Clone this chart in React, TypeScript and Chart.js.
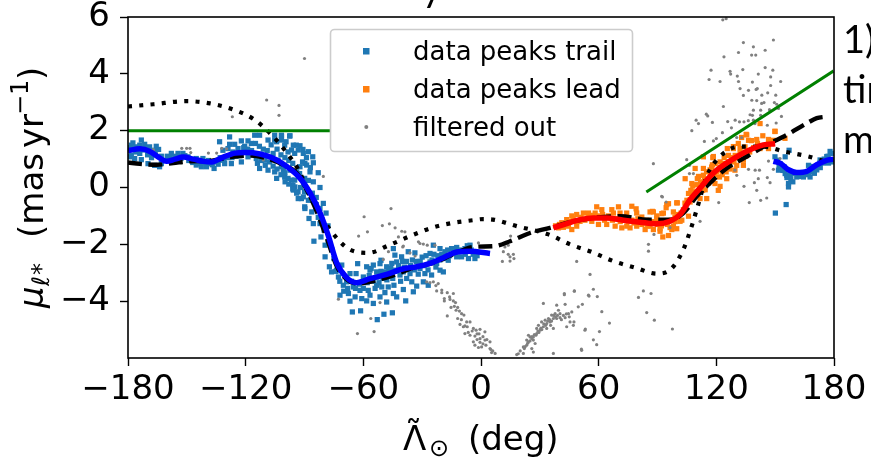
import React, { useEffect, useRef } from "react";
import { Chart, registerables } from "chart.js";

Chart.register(...registerables);

const xTicks = [-180, -120, -60, 0, 60, 120, 180];
const yTicks = [-4, -2, 0, 2, 4, 6];
const legendLabels = ["data peaks trail", "data peaks lead", "filtered out"];
const sideText = ["1)", "tim", "m"];
const clippedGlyph = "y";

type P = [number, number];

const trailPeaks: P[] = [
[-177.5,1.57],[-173.2,1.67],[-171.5,1.52],[-175.8,1.43],[-178.3,1.49],[-169,1.43],[-165.6,1.45],[-164.4,1.34],[-167.3,1.2],[-179,1.08],[-176.6,1.02],[-173.2,.98],[-169.8,.84],[-166.4,.78],[-163.9,.73],[-163,.84],[-178.3,1.14],[-174,1.49],[-170.7,1.37],[-166.4,1.31],[-157.9,1.2],[-154.5,1.2],[-152,1.2],[-158.8,1.08],[-156.2,1.1],[-149.4,1.08],[-145.2,.79],[-142.6,.73],[-140,.73],[-145.2,1.02],[-141.8,1.02],[-136.1,.67],[-138.4,.84],[-135.8,.9],[-132.4,.96],[-133.3,1.61],[-128.2,1.78],[-131.6,1.31],[-129,1.37],[-125.6,1.52],[-122.2,1.64],[-118.8,1.64],[-115.4,1.84],[-112.9,1.84],[-108.6,1.67],[-105.2,1.84],[-101.8,1.84],[-97.6,1.81],[-105.2,1.67],[-101.8,1.67],[-100.1,1.49],[-94.2,1.49],[-90.8,1.34],[-98.4,1.25],[-95,1.2],[-117.1,1.55],[-120.5,1.45],[-126.5,1.25],[-123.9,1.37],[-128.2,1.52],[-112.9,.67],[-108.6,.61],[-105.2,.55],[-101.8,.73],[-103.5,.96],[-100.1,.37],[-98.4,.32],[-95,.26],[-95.9,.08],[-93.3,-.15],[-91.6,-.39],[-89.9,-.68],[-89.9,.32],[-92.5,.49],[-110.3,.96],[-114.6,1.02],[-107.8,.9],[-118.8,1.08],[-122.2,.9],[-127.3,.84],[-130.7,.84],
[-97.4,1.82],[-101.7,1.81],[-99.4,1.61],[-104.2,1.61],[-95.7,1.49],[-92.3,1.47],[-96.6,1.32],[-93.2,1.32],[-88,1.26],[-90.6,1.2],[-85.8,1.08],[-85.5,.87],[-89.8,.85],[-92.3,.73],[-88.9,.79],[-83,.52],[-87.2,.55],[-94,.55],[-97.4,.61],[-100.8,.61],[-104.2,.32],[-99.9,.2],[-96.6,.26],[-94.9,.02],[-85.5,.2],[-82.1,0],[-93.2,-.39],[-90.6,-.33],[-95.7,-.09],[-89.8,-.74],[-86.3,-.86],[-80.4,-.56],[-82.1,-.74],[-87.7,-1.09],[-85.5,-1.27],[-82.1,-1.27],[-85.2,-1.89],[-81.6,-1.74],[-79.5,-2.03],[-77.9,-1.97],[-79.5,-2.44],[-77.3,-2.79],[-76.2,-2.97],[-73.6,-2.91],[-71,-2.73],[-62.9,-2.68],[-72.7,-3.15],[-70.2,-3.44],[-68.5,-3.32],[-71.9,-3.79],[-66.8,-4],[-67.6,-3.73],[-64.2,-3.85],[-60.8,-3.91],[-58.3,-3.99],[-54.9,-4.08],[-51.5,-3.85],[-48.1,-4.03],[-65.6,-4.38],[-61.4,-4.34],[-49.5,-4.46],[-52.9,-4.65],[-65.1,-3.5],[-61.7,-3.62],[-57.5,-3.62],[-56.6,-3.79],[-53.2,-3.44],[-50.6,-3.5],[-47.3,-3.5],[-58.3,-2.79],[-54.9,-2.73],[-51.5,-2.68],[-48.1,-2.79],[-51,-2.56],[-66.8,-3.03],[-63.7,-3.03],[-56.6,-2.91],[-53.2,-2.97],[-49,-2.97],
[-44.7,-2.15],[-40.5,-2.44],[-37.1,-2.26],[-33.7,-2.3],[-43,-2.62],[-43.9,-2.91],[-41.3,-3.08],[-37.9,-3.2],[-35.3,-3.32],[-32.8,-3.47],[-34.5,-3.67],[-29.4,-3.32],[-26.9,-3.44],[-39.6,-3.59],[-44.4,-3.44],[-44.7,-3.73],[-43,-3.85],[-38.4,-3.99],[-45.2,-4.41],[-26,-2.32],[-24.3,-2.03],[-20.9,-2.15],[-18.4,-2.26],[-15,-2.15],[-12.4,-2.11],[-9.9,-2.44],[-5.6,-2.03],[-3.1,-2.5],[-8.2,-2.15],[-31.1,-2.85],[-28.6,-3.03],[-25.2,-3.08],[-20.9,-2.91],[-19.2,-2.97],[-22.6,-2.67],[-26,-2.62],[-36.2,-3.03],[-39.6,-2.97],[-45.5,-2.67],[-43.9,-2.38],[-16.7,-2.56],[-12.4,-2.44],[-6.4,-2.5],[-14.1,-2.32],
[157.1,1.31],[149.9,1.08],[151.1,.96],[155.1,1.08],[152.5,.84],[151.7,.61],[154.5,.73],[155.1,.49],[155.9,.43],[157.6,.37],[161,.37],[164.4,.37],[167.8,.37],[169.5,.61],[167,.78],[171.2,.73],[172.9,.86],[159,.2],[156.8,.14],[156.8,.02],[155.6,-.6],[150.1,-.9],[176.3,1.09],[178,1.27],[178.9,.98],[174.6,.86],[171.2,.62],[169.5,.74],[166.9,.45],[162.7,.39],[172.9,.97],[177.2,.86],
];
const trailPeaksMore: P[] = [
[-179,1.4],[-176,1.25],[-174,1.2],[-172,1.32],[-170,1.15],[-168,1.05],[-166,1.15],[-163,1.1],[-161,.95],[-160,1.1],[-158,.95],[-155,.95],[-153,1.02],[-151,1.12],[-149,.95],[-147,.88],[-145,.92],[-143,.85],[-141,.88],[-139,.95],[-137,.8],[-134,.82],[-133,1.05],[-131,.98],[-129,1.05],[-127,1.05],[-125,1.1],[-123,1.12],[-121,1.4],[-119,1.35],[-117,1.3],[-115,1.55],[-113,1.45],[-111,1.35],[-109,1.3],[-107,1.5],[-106,1.2],[-104,1.35],[-102,1.15],[-100,1.05],[-98,.95],[-96,.85],[-114,.85],[-112,.95],[-110,.78],[-106,.75],[-104,.65],[-102,.45],[-100,.52],[-98,.12],[-96,-.05],[-94,-.2],[-92,0],[-90,-.15],[-88,-.45],[-88,.25],[-86,-.2],[-84,-.35],[-91,.9],[-89,1.05],[-87,.7],
[-84,-.6],[-83,-1.05],[-80,-1.5],[-79,-.9],[-78,-1.35],[-76,-2.2],[-75,-2.5],[-72,-3.3],[-74,-2.95],
[-70,-3.65],[-68,-3.55],[-66,-3.3],[-64,-3.55],[-62,-3.4],[-60,-3.55],[-60,-3.15],[-58,-3.35],[-57,-3.1],[-56,-2.85],[-55,-3.3],[-54,-3.55],[-53,-3.15],[-52,-3.35],[-51,-2.95],[-50,-3.2],[-49,-3.7],[-48,-3.25],[-47,-2.9],[-46,-3.1],[-46,-2.85],[-45,-3.2],[-44,-2.95],[-42,-2.75],[-41,-3.3],[-40,-2.6],[-39,-2.8],[-38,-2.6],[-36,-2.75],[-35,-2.55],[-34,-2.9],[-33,-2.6],[-32,-3.05],[-31,-2.6],[-30,-2.45],[-29,-2.75],[-28,-2.4],[-27,-2.9],[-25,-2.55],[-24,-2.35],[-23,-2.8],[-22,-2.4],[-21,-2.55],[-20,-2.35],[-18,-2.5],[-17,-2.2],[-16,-2.4],[-14,-2.15],[-13,-2.3],[-11,-2.2],[-10,-2.25],[-8,-2.35],[-7,-2.05],[-5,-2.2],[-4,-2.35],[-2,-2.4],
[158,.48],[160,.5],[163,.45],[165,.5],[168,.55],[170,.5],[173,.7],[175,1],[177,1.1],[179,1.2],[179.5,.9],[152,.75],[154,.6],[156,.35],[158,.3],
];

const leadPeaks: P[] = [
[142.3,2.25],[149.9,1.98],[135.2,1.87],[143.7,1.82],[140.6,1.69],[146.6,1.69],[149.1,1.66],[132.9,1.76],[136.4,1.66],[131.2,1.55],[134.6,1.43],[132.1,1.37],[128.7,1.37],[125.6,1.37],[146.6,1.37],[142.3,1.37],[113.4,1.08],[118.2,1.05],[121.9,.9],[126.2,1.13],[129.6,1.13],[132.1,1.19],[119.4,.84],[117.6,.72],[113.4,.67],[109.2,.67],[104.1,.31],[110.3,.31],[113.4,.43],[123.6,.84],[126.2,.9],[133.8,.96],[130.4,.78],[133.8,.78],[122.8,.61],[125.3,.31],[129.5,.61],[121,-.1],[117.6,.31],[107.5,.14],[105.8,-.21],[109.2,-.15],[115.1,-.39],[111.7,-.39],[119.3,.14],[121.6,.37],[95.6,-.57],[100.1,-.54],[106.6,-.51],[94.4,-.71],[98.1,-.86],[87.9,-.86],[86.2,-.86],[92.2,-.92],[89.6,-1.1],[98.9,-1.04],[102.4,-1.15],[82,-1.04],[84.5,-1.15],[93.8,-1.21],[99.8,-1.45],[91.3,-1.45],[96.4,-1.41],
[39.5,-1.42],[43.7,-1.13],[46.3,-1.48],[48.8,-.95],[50.5,-1.19],[54.8,-.9],[59,-.68],[56.5,-1.19],[61.6,-.78],[64.1,-1.3],[66.7,-.78],[70.1,-.68],[71.8,-1.42],[74.3,-.9],[76.9,-.66],[79.1,-.75],[76,-1.42],[79.4,-.9],[87.4,-.84],[83.7,-1.48],[87.9,-1.48],[92.7,-1.74],[95.6,-1.69],[93,-.9],[99.8,-.54],[94.7,-.6],[103.2,-.78],[98.1,-1.36],[101.5,-1.19],[105.8,-1.01],[46.3,-1],[41.2,-1.24],[52.2,-.9],[58.2,-.9],[67.5,-.9],[70.9,-.9],[59.9,-1.3],[68.4,-1.36],[74.3,-1.36],[79.4,-1.36],[91.3,-1.54],[97.3,-1.48],[89.6,-1],[86.2,-1.36],[44.6,-1.36],[48.8,-1.36],[108.3,-.25],[114.3,-.08],[116.8,.62],[118.5,1.09],[128.7,1.44],[135.5,1.85],[149.9,1.97],[155,1.73],[106.6,-.43],[110.9,.39],[121.9,.04],
];
const leadPeaksMore: P[] = [
[38,-1.35],[40,-1.3],[42,-1.4],[45,-1.2],[47,-1.1],[49,-1.2],[51,-1.05],[53,-1.15],[55,-1.05],[57,-.98],[60,-1],[62,-.95],[63,-1.15],[65,-1],[67,-1.15],[69,-1.1],[71,-1.2],[73,-1.05],[75,-1.2],[77,-1.15],[78,-1.25],[80,-1.1],[82,-1.3],[84,-1.25],[85,-1.35],[88,-1.2],[90,-1.3],[92,-1.35],[93,-1.2],[95,-1.3],[97,-1.15],[99,-1.2],[100,-.95],[102,-.9],[104,-.55],[105,-.45],[107,-.1],[108,.05],[110,.1],[112,.2],[113,-.1],[114,.3],[115,.55],[116,.15],[117,.5],[118,.8],[119,.45],[120,.55],[122,.7],[123,.45],[124,1.05],[125,.55],[127,.65],[128,1.05],[129,.9],[131,1.05],[133,1.2],[135,1.1],[137,1.25],[138,1.65],[139,1.4],[141,1.55],[144,1.45],
];

const filteredOut: P[] = [
[133.8,5.1],[138.9,4.95],[149.1,5.19],[144.9,4.83],[131.3,4.75],[123.9,4.6],[138,4.66],[140.1,4.66],[117.3,4.13],[127,4.09],[127.3,3.99],[133.5,4.15],[144.9,4.22],[148.8,4.13],[141.4,3.99],[130.7,3.92],[116.3,3.8],[121.9,3.73],[131.3,3.73],[138.4,3.71],[147.7,3.89],[152.8,3.73],[147.7,3.59],[132.1,3.48],[136.4,3.42],[140.9,3.48],[140.3,3.45],[146.2,3.33],[143.2,3.25],[150.3,3.25],[133.8,3.24],[138.1,3.07],[140.6,3.06],[144.3,2.99],[143.1,2.96],[149.6,2.99],[150.8,2.93],[123.6,2.85],[147.1,2.74],[151.7,2.78],[138.9,2.72],[142.6,2.72],[137.2,2.56],[138.4,2.54],[153.2,2.5],[142.6,2.54],[114.9,2.58],[115.6,2.52],[109.7,2.37],[110.9,2.25],[118,2.29],[125.8,2.32],[129.6,2.37],[131.8,2.31],[134.1,2.31],[136.3,2.35],[138.9,2.37],[139.7,2.25],[146,2.19],[150.5,2.27],[107.5,2],[127.7,2.1],[123.1,1.93],[120,1.72],[118.5,1.64],[113.9,1.62],[130.4,1.76],[132.9,1.76],[87.9,.84],[104.9,.98],[106.3,.78],[106.3,.49],[108.3,.49],[92.5,-.33],[94.4,-.51],[121.2,-.53],[111.7,-1.19],[96.4,-1.41],[136.4,.64],[139.8,.61],[142,.61],[146.6,.93],[149.1,.64],[146,.35],[147.4,.17],[141.4,.31],[139.4,.17],[134.1,.04],[140.6,-.1],[145.7,-.37],[142.6,-.45],[136.8,-.53],[129.5,.61],[130.4,.43],[152.5,1.02],[123.3,5.9],[125,5.94],
[-24.3,-3.32],[-21.8,-3.38],[-27.7,-3.32],[-22.6,-3.64],[-20,-3.61],[-17.2,-3.7],[-14.1,-3.73],[-18.7,-3.91],[-18.7,-3.99],[-15.8,-3.94],[-14.1,-3.99],[-13.6,-4.18],[-15.3,-4.22],[-11.9,-4.22],[-12.7,-4.32],[-17.2,-4.52],[-11.9,-4.61],[-9.9,-4.44],[-8.7,-4.49],[-10.7,-4.82],[-8.2,-4.87],[-7.3,-4.73],[-5.6,-4.73],[-9,-4.9],[-3.9,-4.96],[-2.5,-5.02],[-.5,-4.99],[2,-5.08],[-8.2,-5.14],[-5.6,-5.2],[-3.1,-5.23],[-.5,-5.32],[2,-5.37],[4.6,-5.43],[-3.9,-5.43],[.3,-5.61],[-1.3,-5.63],[-3.1,-5.55],[4.6,-5.67],[5.4,-5.81],[7.2,-5.84],
[18.2,-5.88],[21.6,-5.84],[22.1,-5.67],[23.3,-5.55],[24.2,-5.43],[25.9,-5.32],[26.7,-5.26],[28.4,-5.14],[30.1,-5.02],[29.3,-4.85],[31.8,-4.9],[33.5,-4.79],[32.7,-4.67],[35.2,-4.73],[36.9,-4.61],[38.6,-4.61],[40.3,-4.58],[42.9,-4.58],[44.6,-4.44],[46.3,-4.38],[37.8,-4.44],[39.5,-4.32],[38.6,-4.14],[42.9,-4.11],[31.8,-4.08],[42.5,-3.77],[47.6,-3.65],[55.1,-3.82],[51.7,-4.11],[49.6,-4.2],[45.4,-4.73],[47.4,-4.73],[43.7,-4.9],[36.9,-4.96],[33.5,-4.96],[53,-5.02],[47.1,-4.85],[27.6,-5.49],[25.9,-5.67],[26.7,-5.79],[24.2,-5.2],[25,-5.26],[51.3,-5.73],[36.9,-5.84],[28.4,-4.96],[30.9,-4.73],[34.4,-4.61],[36,-4.49],[40.3,-4.44],[26.7,-5.37],[23.3,-5.37],[21.6,-5.61],
[11.4,-2.26],[12.2,-2.09],[13.9,-2.03],[15.1,-1.71],[13.9,-2.35],[16.5,-2.35],[14.8,-2.44],[16.8,-2.5],[10.9,-2.6],[14.8,-2.59],[-1.3,-1.95],[-31.1,-1.97],[-29.4,-1.99],[-27.4,-2.03],[-23.5,-2.03],[-39.9,-2.09],[-38.8,-1.56],[48.8,-2.6],
[55.6,-3.06],[82.8,-3.64],[80.3,-3.87],[86.7,-3.73],[84.5,-4.4],[88.4,-4.67],[97.6,-4.98],[61.6,-4.37],[65.5,-4.77],[53.2,-4.98],[60.4,-5.07],[57.3,-5.36],[59,-5.53],[51.2,-5.69],[85.4,-2],[85.4,-2.24],[92.1,-.31],[88.2,-1.65],[47.6,-3.64],[42.5,-3.73],[57.3,-3.58],[54.8,-3.79],[59.3,-3.84],
[-90,4.54],[-109.3,3.08],[-103,2.89],[-126.8,2.49],[-103,2.54],[-80.4,.39],[-59.6,-1.03],[-45.9,-.74],[-57.9,-1.56],[-62.4,-1.71],[-50.3,-1.34],[-46.7,-1.28],[-43.8,-1.42],[-40.4,-1.54],[-42.1,-1.74],[-31.9,-1.91],[-39.6,-2.06],[-36.2,-2.3],[-49.8,-2.53],[-47.2,-2.26],[-33.6,-2.41],[-72.7,-3.93],[-51.5,-4.05],[-56.2,-4.61],[-63,-5.14],[-54.5,-5.07],[-152.6,1.38],[-150.1,1.38],[-148.4,1.38],[-139,1.21],[-134.8,1.21],[-132.2,1.38],[-129.7,1.36],[-167.1,1.33],[-148,1.23],[-111,.97],[-124.6,1.09],
];
const filteredOutMore: P[] = [
[19,-5.85],[20,-5.75],[22.5,-5.6],[23.8,-5.48],[25,-5.4],[26,-5.25],[27.2,-5.18],[28,-5.2],[29,-5.05],[29.5,-5.1],[30.5,-4.95],[31,-5],[32,-4.8],[33,-4.85],[34,-4.7],[35,-4.65],[36,-4.7],[37,-4.5],[38,-4.55],[39,-4.5],[41,-4.65],[42,-4.5],[43.5,-4.45],[45,-4.55],[35.5,-4.85],
[-26,-3.35],[-23,-3.45],[-20,-3.7],[-16,-3.85],[-13,-4.05],[-11,-4.35],[-10,-4.65],[-7,-4.9],[-6.5,-5.1],[-4.5,-5.05],[-2,-5.15],[-1,-5.15],[1,-5.25],[3,-5.35],[-2,-5.35],[-.5,-5.45],[1,-5.5],[2.5,-5.55],[5,-5.7],[6,-5.75],
];

const blueLeft: P[] = [
[-180,1.3],[-173.9,1.36],[-168.8,1.27],[-163.7,1.03],[-160.3,.92],[-156,1],[-151.8,1.07],[-146.7,1],[-141.6,.92],[-137.3,.9],[-131.4,1.07],[-125.4,1.21],[-120.3,1.23],[-112.7,1.18],[-105.9,1.03],[-99,.74],[-92.3,.33],[-87.2,-.19],[-82.1,-.89],[-77.8,-1.71],[-73.6,-2.65],[-68.5,-3.17],[-63.4,-3.35],[-56.6,-3.21],[-48.1,-3.06],[-39.6,-2.86],[-32.8,-2.79],[-26,-2.67],[-19.2,-2.47],[-12.4,-2.27],[-5.6,-2.24],[4.6,-2.32],
];
const blueRight: P[] = [
[149.1,.92],[152.5,.86],[156.8,.625],[161,.53],[166.1,.57],[171.2,.8],[175.5,.94],[179.7,1],
];
const redLead: P[] = [
[36.9,-1.42],[43.7,-1.27],[50.5,-1.13],[57.3,-1.07],[64.1,-1.07],[72.6,-1.15],[81.1,-1.22],[89.6,-1.28],[96.4,-1.19],[101.5,-.95],[106.6,-.43],[111.7,-.02],[118.5,.51],[125.3,.86],[132.1,1.15],[138.9,1.38],[144,1.5],[150,1.54],
];
const dashedModel: P[] = [
[-180,.88],[-173.9,.83],[-165.4,.8],[-156.9,.86],[-148.4,.92],[-138.2,.94],[-128,1.07],[-117.8,1.12],[-109.3,1.03],[-100.8,.8],[-94,.51],[-88.9,-.08],[-83.8,-.84],[-78.7,-1.77],[-73.6,-2.76],[-68.5,-3.23],[-63.4,-3.38],[-54.9,-3.29],[-44.7,-3.09],[-34.5,-2.82],[-24.3,-2.65],[-14.1,-2.35],[-3.9,-2.09],[7.2,-2.06],[14.8,-1.89],[25,-1.6],[35.2,-1.42],[45.4,-1.22],[57.3,-1.07],[70.9,-1.01],[84.5,-1.13],[96.4,-1.13],[103.2,-.9],[110,-.31],[116.8,.16],[125.3,.68],[135.5,1.09],[145.7,1.5],[155.9,1.85],[166.1,2.26],[171.2,2.44],[175.5,2.49],
];
const dottedModel: P[] = [
[-180,2.85],[-167.1,2.93],[-150.1,3.04],[-138.2,2.96],[-127.1,2.76],[-116,2.41],[-107.6,1.91],[-99.9,1.3],[-93.1,.62],[-85.5,-.54],[-77,-1.48],[-69,-2.09],[-63.4,-2.27],[-57.4,-2.3],[-47.2,-2.04],[-36.2,-1.71],[-25.1,-1.42],[-14.1,-1.24],[-3.9,-1.15],[1.2,-1.11],[6.3,-1.13],[18.2,-1.36],[34.4,-1.65],[45.4,-2],[56.5,-2.27],[67.5,-2.59],[78.6,-2.82],[89.6,-3.03],[95.6,-2.94],[102.4,-2.3],[106.6,-1.54],[110,-.78],[115.1,.39],[121.9,1.09],[132.1,1.44],[144,1.44],[154.2,1.27],[167,1.09],[178,.86],
];
const greenFlat: P[] = [[-180,2],[-77,2]];
const greenSlope: P[] = [[84.3,-.16],[179.7,4.1]];

const toXY = (a: P[]) => a.map(([x, y]) => ({ x, y }));
const FONT = '"DejaVu Sans"';
const BLUE = "#1f77b4", ORANGE = "#ff7f0e", GREY = "#808080";

const decorations = {
  id: "decorations",
  afterDraw(chart: any) {
    const { ctx, chartArea: a } = chart;
    ctx.save();
    ctx.strokeStyle = "#000";
    ctx.lineWidth = 1.6;
    ctx.strokeRect(a.left, a.top, a.right - a.left, a.bottom - a.top);

    // legend box
    ctx.beginPath();
    ctx.roundRect(330.5, 29.5, 302, 122, 4);
    ctx.fillStyle = "#ffffff";
    ctx.fill();
    ctx.strokeStyle = "#cccccc";
    ctx.lineWidth = 1.6;
    ctx.stroke();
    const rows = [51, 89, 127];
    ctx.font = `26px ${FONT}`;
    ctx.textBaseline = "alphabetic";
    legendLabels.forEach((t, i) => {
      ctx.fillStyle = [BLUE, ORANGE, GREY][i];
      if (i < 2) ctx.fillRect(363, rows[i] - 3, 6.5, 6.5);
      else {
        ctx.beginPath();
        ctx.arc(366.3, rows[i], 2, 0, 7);
        ctx.fill();
      }
      ctx.fillStyle = "#000";
      ctx.fillText(t, 413, rows[i] + 9);
    });

    // x axis title
    ctx.fillStyle = "#000";
    ctx.font = `34px ${FONT}`;
    ctx.fillText("Λ", 403, 450);
    ctx.fillText("˜", 405, 445);
    ctx.font = `24px ${FONT}`;
    ctx.fillText("⊙", 429, 456);
    ctx.font = `34px ${FONT}`;
    ctx.fillText("(deg)", 468, 450);

    // y axis title
    ctx.translate(43, 308);
    ctx.rotate(-Math.PI / 2);
    ctx.font = `italic 34px ${FONT}`;
    ctx.fillText("μ", 0, 0);
    ctx.font = `italic 24px ${FONT}`;
    ctx.fillText("ℓ", 22, 6);
    ctx.font = `24px ${FONT}`;
    ctx.fillText("*", 33, 6);
    ctx.font = `34px ${FONT}`;
    ctx.fillText("(mas", 70, 0);
    ctx.fillText("yr", 160, 0);
    ctx.font = `24px ${FONT}`;
    ctx.fillText("−1", 193, -15);
    ctx.font = `34px ${FONT}`;
    ctx.fillText(")", 228, 0);
    ctx.restore();
  },
};

export default function App() {
  const ref = useRef<HTMLCanvasElement>(null);
  useEffect(() => {
    const scatter = (label: string, d: P[], color: string, radius: number, style: string, order: number) => ({
      label, data: toXY(d), backgroundColor: color, borderColor: color, pointBackgroundColor: color,
      pointBorderWidth: 0, pointRadius: radius, pointStyle: style, showLine: false, order,
    });
    const line = (label: string, d: P[], color: string, width: number, dash: number[], order: number) => ({
      label, data: toXY(d), borderColor: color, backgroundColor: color, borderWidth: width,
      borderDash: dash, pointRadius: 0, showLine: true, cubicInterpolationMode: "monotone", order,
    });
    const tickStyle = { drawOnChartArea: false, drawTicks: true, tickLength: 8, tickColor: "#000", tickWidth: 1.4 };
    const fmt = (v: any) => (v < 0 ? "−" + Math.abs(v) : String(v));
    const chart = new Chart(ref.current!, {
      type: "scatter",
      data: {
        datasets: [
          scatter(legendLabels[0], trailPeaks.concat(trailPeaksMore), BLUE, 3.7, "rect", 9),
          scatter(legendLabels[1], leadPeaks.concat(leadPeaksMore), ORANGE, 3.7, "rect", 8),
          scatter(legendLabels[2], filteredOut.concat(filteredOutMore), GREY, 1.6, "circle", 7),
          line("model a", dottedModel, "#000", 4.2, [4, 7.3], 6),
          line("model b", dashedModel, "#000", 4.4, [14, 6.5], 5),
          line("flat", greenFlat, "#008000", 3, [], 4),
          line("slope", greenSlope, "#008000", 3, [], 3),
          line("trail left", blueLeft, "#0000ff", 5.5, [], 2),
          line("trail right", blueRight, "#0000ff", 5.5, [], 1),
          line("lead", redLead, "#ff0000", 5.5, [], 0),
        ] as any,
      },
      plugins: [decorations],
      options: {
        animation: false,
        responsive: false,
        devicePixelRatio: 1,
        layout: { autoPadding: false, padding: { left: 0, top: 17, right: 37, bottom: 0 } },
        plugins: { legend: { display: false }, tooltip: { enabled: false }, title: { display: false } },
        scales: {
          x: {
            type: "linear", min: -180, max: 180,
            afterFit(s: any) { s.height = 103; s.paddingLeft = 0; s.paddingRight = 0; },
            afterBuildTicks(s: any) { s.ticks = xTicks.map((value) => ({ value })); },
            grid: tickStyle,
            border: { display: false },
            ticks: { color: "#000", font: { family: "DejaVu Sans", size: 34 }, padding: 4, maxRotation: 0, autoSkip: false, callback: fmt },
          },
          y: {
            type: "linear", min: -6, max: 6,
            afterFit(s: any) { s.width = 128; s.paddingTop = 0; s.paddingBottom = 0; },
            afterBuildTicks(s: any) { s.ticks = yTicks.map((value) => ({ value })); },
            grid: tickStyle,
            border: { display: false },
            ticks: { color: "#000", font: { family: "DejaVu Sans", size: 34 }, padding: 10, autoSkip: false, callback: fmt },
          },
        },
      } as any,
    });
    return () => chart.destroy();
  }, []);

  const side: React.CSSProperties = {
    position: "absolute", left: 843, fontFamily: "Lato, 'Open Sans', sans-serif", fontSize: 38, lineHeight: "50px",
    color: "#000", whiteSpace: "nowrap",
  };
  return (
    <div style={{ position: "absolute", left: 0, top: 0, width: 871, height: 461, overflow: "hidden", background: "#fff" }}>
      <canvas ref={ref} width={871} height={461} style={{ display: "block" }} />
      {sideText.map((t, i) => (
        <div key={t} style={{ ...side, top: 13 + i * 50 }}>{t}</div>
      ))}
      <div style={{ ...side, left: 422, top: -39 }}>{clippedGlyph}</div>
    </div>
  );
}
